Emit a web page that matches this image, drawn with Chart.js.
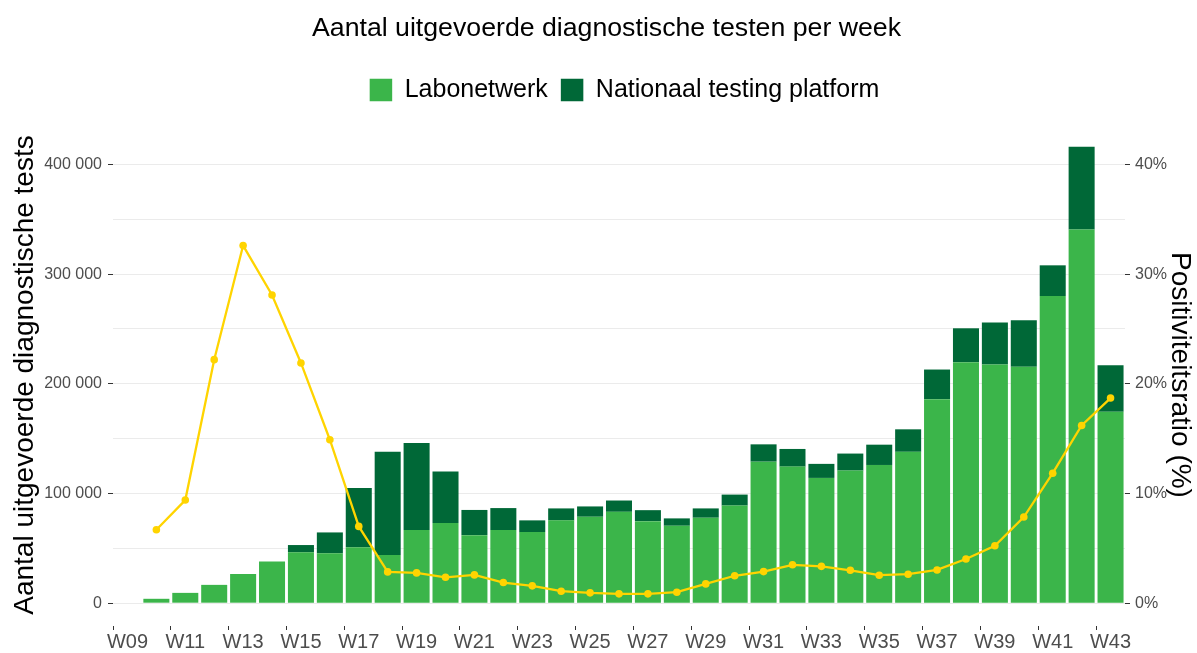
<!DOCTYPE html>
<html>
<head>
<meta charset="utf-8">
<script src="https://cdn.jsdelivr.net/npm/chart.js@4/dist/chart.umd.min.js"></script>
<style>
  html, body { margin: 0; padding: 0; background: #fff; }
  #wrap { width: 1197px; height: 653px; position: relative; }
</style>
</head>
<body>
<div id="wrap"><canvas id="c"></canvas></div>
<script>
// ---- data ----
const weeks = ["W09","W10","W11","W12","W13","W14","W15","W16","W17","W18","W19","W20","W21","W22","W23","W24","W25","W26","W27","W28","W29","W30","W31","W32","W33","W34","W35","W36","W37","W38","W39","W40","W41","W42","W43"];
const labonetwerk = [null,4000,9400,16700,26600,37900,46400,45500,51000,44000,66700,73000,62000,66700,64800,75500,78800,83300,74800,70600,77900,89000,129000,124500,114200,120900,126000,138000,186000,219700,217600,215500,280000,340600,174500];
const nationaal = [null,0,0,0,0,0,6600,19000,54000,94000,79300,47000,23000,20000,10700,10900,9400,10300,10000,6700,8500,10000,15800,16100,12800,15500,18500,20500,27000,30900,38200,42400,28000,75400,42500];
const positiviteit = [null,6.7,9.4,22.2,32.6,28.1,21.9,14.9,7.0,2.85,2.76,2.36,2.58,1.88,1.58,1.09,0.94,0.85,0.85,1.0,1.76,2.5,2.88,3.5,3.36,3.0,2.55,2.64,3.03,4.03,5.24,7.85,11.85,16.2,18.7];
const leftTicks = [0,50000,100000,150000,200000,250000,300000,350000,400000];
const rightTicks = [0,10,20,30,40];

const FONT = "'Liberation Sans', Arial, sans-serif";
const fmt = v => String(v).replace(/\B(?=(\d{3})+(?!\d))/g, ' ');

const layoutTweaks = {
  id: 'layoutTweaks',
  afterInit(chart) {
    const lg = chart.legend;
    if (!lg) return;
    const orig = lg.fit.bind(lg);
    lg.fit = function () { orig(); this.height += 11.5; };
  },
  afterLayout(chart) {
    if (chart.legend) { chart.legend.left += 26; chart.legend.right += 26; }
    if (chart.titleBlock) { chart.titleBlock.left += 8; chart.titleBlock.right += 8; }
  }
};

new Chart(document.getElementById('c'), {
  data: {
    labels: weeks,
    datasets: [
      {
        type: 'line', label: 'Positiviteitsratio', data: positiviteit, yAxisID: 'y1', order: 0,
        borderColor: '#FFD400', backgroundColor: '#FFD400', borderWidth: 2.3,
        pointRadius: 3.8, pointBorderWidth: 0, pointBackgroundColor: '#FFD400', tension: 0, spanGaps: false
      },
      {
        type: 'bar', label: 'Labonetwerk', data: labonetwerk, yAxisID: 'y', order: 1, stack: 's',
        backgroundColor: '#3BB54A', borderWidth: 0, barPercentage: 0.9, categoryPercentage: 1
      },
      {
        type: 'bar', label: 'Nationaal testing platform', data: nationaal, yAxisID: 'y', order: 2, stack: 's',
        backgroundColor: '#006837', borderWidth: 0, barPercentage: 0.9, categoryPercentage: 1
      }
    ]
  },
  options: {
    responsive: true, maintainAspectRatio: false, animation: false,
    layout: { padding: 0 },
    plugins: {
      tooltip: { enabled: false },
      title: {
        display: true, text: 'Aantal uitgevoerde diagnostische testen per week',
        color: '#000', font: { family: FONT, size: 26.7, weight: 'normal', lineHeight: 1.2 },
        padding: { top: 13, bottom: 19.5 }
      },
      legend: {
        display: true, position: 'top',
        labels: {
          filter: (item) => item.text !== 'Positiviteitsratio',
          boxWidth: 22.5, boxHeight: 22.5, padding: 13, color: '#000',
          font: { family: FONT, size: 25 }
        }
      }
    },
    scales: {
      x: {
        stacked: true, offset: true,
        grid: { drawOnChartArea: false, drawTicks: true, tickLength: 4,
          tickColor: ctx => (ctx.index % 2 === 0 ? '#333' : 'rgba(0,0,0,0)') },
        border: { display: false },
        ticks: { autoSkip: false, maxRotation: 0, minRotation: 0, padding: 1, color: '#4d4d4d',
          font: { family: FONT, size: 20, lineHeight: 1.1 },
          callback: (v, i) => (i % 2 === 0 ? weeks[i] : '') },
        afterFit: s => { s.height = 27; }
      },
      y: {
        stacked: true, position: 'left', min: -20800, max: 436800,
        afterBuildTicks: s => { s.ticks = leftTicks.map(v => ({ value: v })); },
        grid: { color: '#ebebeb', lineWidth: 1, tickLength: 5,
          tickColor: ctx => (ctx.tick && ctx.tick.value % 100000 === 0 ? '#333' : 'rgba(0,0,0,0)') },
        border: { display: false },
        ticks: { padding: 6, color: '#4d4d4d', font: { family: FONT, size: 16 },
          callback: v => (v % 100000 === 0 ? fmt(v) : '') },
        title: { display: true, text: 'Aantal uitgevoerde diagnostische tests', color: '#000',
          font: { family: FONT, size: 28, lineHeight: 1.2 }, padding: { top: 8.5, bottom: 4 } },
        afterFit: s => { s.width = 113; }
      },
      y1: {
        position: 'right', min: -2.08, max: 43.68,
        afterBuildTicks: s => { s.ticks = rightTicks.map(v => ({ value: v })); },
        grid: { drawOnChartArea: false, tickLength: 5, tickColor: '#333' },
        border: { display: false },
        ticks: { padding: 5, color: '#4d4d4d', font: { family: FONT, size: 16 },
          callback: v => v + '%' },
        title: { display: true, text: 'Positiviteitsratio (%)', color: '#000',
          font: { family: FONT, size: 28, lineHeight: 1.2 }, padding: { top: 0, bottom: 4 } },
        afterFit: s => { s.width = 72; }
      }
    }
  },
  plugins: [layoutTweaks]
});
</script>
</body>
</html>
